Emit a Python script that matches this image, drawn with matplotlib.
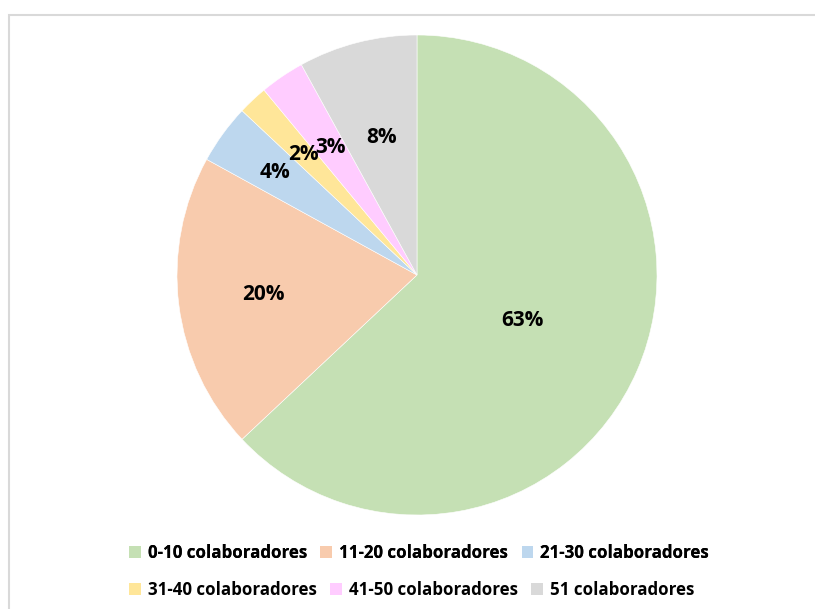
import numpy as np
import matplotlib.pyplot as plt
from matplotlib.patches import Rectangle, Patch

# data
categories = ["0-10 colaboradores", "11-20 colaboradores", "21-30 colaboradores",
              "31-40 colaboradores", "41-50 colaboradores", "51 colaboradores"]
shares = [63, 20, 4, 2, 3, 8]
colors = ["#c5e0b4", "#f8cbad", "#bdd7ee", "#ffe699", "#ffccff", "#d9d9d9"]
label_dist = [0.48, 0.645, 0.73, 0.69, 0.64, 0.59]

plt.rcParams["font.family"] = ["Open Sans", "DejaVu Sans"]

W, H = 815, 609
fig = plt.figure(figsize=(W / 100, H / 100), dpi=100)

# light frame around chart area
fig.patches.append(Rectangle((8.5 / W, -0.05), 1.2, 1 - 14.5 / H + 0.05,
                             transform=fig.transFigure, fill=False,
                             edgecolor="#d9d9d9", linewidth=1.5))

cx, cy, r = 417, 275, 240
ax = fig.add_axes([(cx - r) / W, (H - cy - r) / H, 2 * r / W, 2 * r / H])
wedges, _ = ax.pie(shares, colors=colors, startangle=90, counterclock=False,
                   radius=1.0, wedgeprops=dict(edgecolor="white", linewidth=0.4))
ax.set_xlim(-1, 1)
ax.set_ylim(-1, 1)
ax.set_aspect("auto")
ax.axis("off")

for w, v, d in zip(wedges, shares, label_dist):
    ang = np.deg2rad((w.theta1 + w.theta2) / 2)
    ax.text(d * np.cos(ang), d * np.sin(ang), f"{v}%", ha="center", va="center",
            fontsize=15, fontweight="bold", color="black")

handles = [Patch(facecolor=c, edgecolor="none") for c in colors]
common = dict(frameon=False, ncol=3, prop=dict(size=12.2, weight="bold"),
              handlelength=0.7, handleheight=0.7, handletextpad=0.4,
              columnspacing=0.8, borderpad=0, borderaxespad=0)
leg1 = fig.legend(handles[:3], categories[:3], loc="center left",
                  bbox_to_anchor=(129 / W, 1 - 553 / H), **common)
fig.add_artist(leg1)
fig.legend(handles[3:], categories[3:], loc="center left",
           bbox_to_anchor=(129 / W, 1 - 590 / H), **common)

fig.savefig("out.png", dpi=100)
